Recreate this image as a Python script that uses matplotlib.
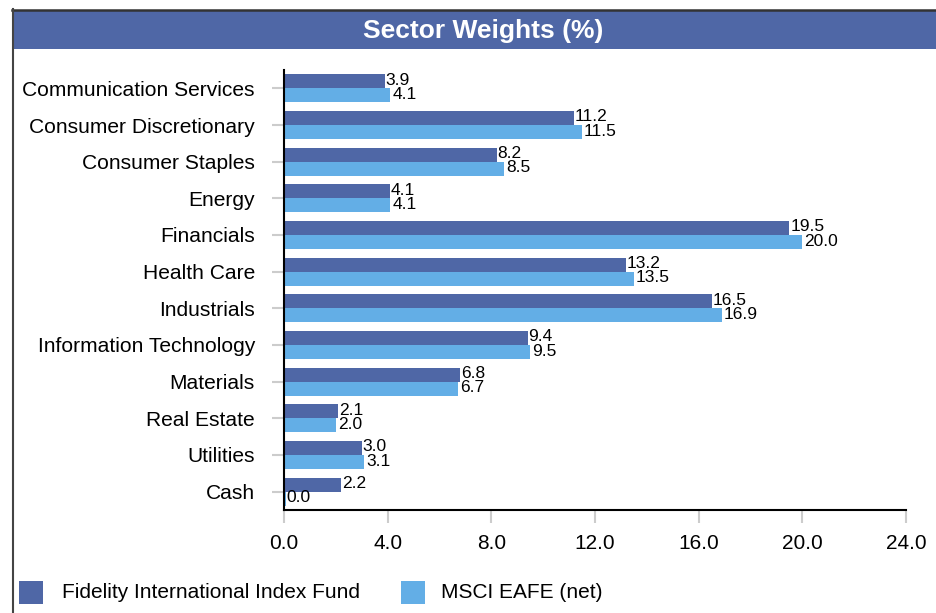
import matplotlib.pyplot as plt
import numpy as np
from matplotlib.patches import Rectangle
from matplotlib.lines import Line2D

plt.rcParams['font.family'] = ['Liberation Sans', 'DejaVu Sans']

sectors = ["Communication Services", "Consumer Discretionary", "Consumer Staples",
           "Energy", "Financials", "Health Care", "Industrials",
           "Information Technology", "Materials", "Real Estate", "Utilities", "Cash"]
fund = [3.9, 11.2, 8.2, 4.1, 19.5, 13.2, 16.5, 9.4, 6.8, 2.1, 3.0, 2.2]
index = [4.1, 11.5, 8.5, 4.1, 20.0, 13.5, 16.9, 9.5, 6.7, 2.0, 3.1, 0.0]
xticks = [0.0, 4.0, 8.0, 12.0, 16.0, 20.0, 24.0]

dark = "#4F67A6"
light = "#63AEE6"

fig = plt.figure(figsize=(9.36, 6.13), dpi=100)
W, H = 936.0, 613.0

# title band and frame lines
fig.patches.append(Rectangle((13/W, 1-49/H), 1-13/W, 39/H, transform=fig.transFigure,
                             facecolor=dark, edgecolor="none"))
fig.lines.append(Line2D([12/W, 1], [1-9.5/H, 1-9.5/H], transform=fig.transFigure,
                        color="#333333", lw=1.8))
fig.lines.append(Line2D([12.5/W, 12.5/W], [0, 1-9/H], transform=fig.transFigure,
                        color="#444444", lw=1.5))
fig.text(483/W, 1-31/H, "Sector Weights (%)", color="white", fontsize=19,
         fontweight="bold", ha="center", va="center")

ax = fig.add_axes([284/W, 1-510/H, 622/W, 440/H])
y = np.arange(len(sectors))
h = 0.38
ax.barh(y - h/2, fund, height=h, color=dark)
ax.barh(y + h/2, index, height=h, color=light)
ax.barh(11 + h/2, 0.08, height=h, color=light)

# value labels
for i in range(len(sectors)):
    ax.text(fund[i] + 0.03, y[i] - h/2 - 0.03, "%.1f" % fund[i], va="center", ha="left", fontsize=12.5)
    ax.text(index[i] + 0.08, y[i] + h/2 - 0.02, "%.1f" % index[i], va="center", ha="left", fontsize=12.5)

ax.set_xlim(0, 24)
ax.set_ylim(11.5, -0.5)
ax.set_xticks(xticks)
ax.set_xticklabels(["%.1f" % t for t in xticks], fontsize=15)
ax.set_yticks(y)
ax.set_yticklabels(sectors, fontsize=15.1)
ax.tick_params(axis="y", length=9, color="#CCCCCC", width=1.5, pad=12)
ax.tick_params(axis="x", length=9, color="#CCCCCC", width=1.5, pad=8)
for s in ["top", "right"]:
    ax.spines[s].set_visible(False)
ax.spines["left"].set_linewidth(1.5)
ax.spines["bottom"].set_linewidth(1.5)

# legend
fig.patches.append(Rectangle((19/W, 1-604/H), 24/W, 23/H, transform=fig.transFigure,
                             facecolor=dark, edgecolor="none"))
fig.text(62/W, 1-593/H, "Fidelity International Index Fund", fontsize=15, va="center")
fig.patches.append(Rectangle((401/W, 1-604/H), 24/W, 23/H, transform=fig.transFigure,
                             facecolor=light, edgecolor="none"))
fig.text(441/W, 1-593/H, "MSCI EAFE (net)", fontsize=15, va="center")

plt.savefig("out.png", dpi=100)
